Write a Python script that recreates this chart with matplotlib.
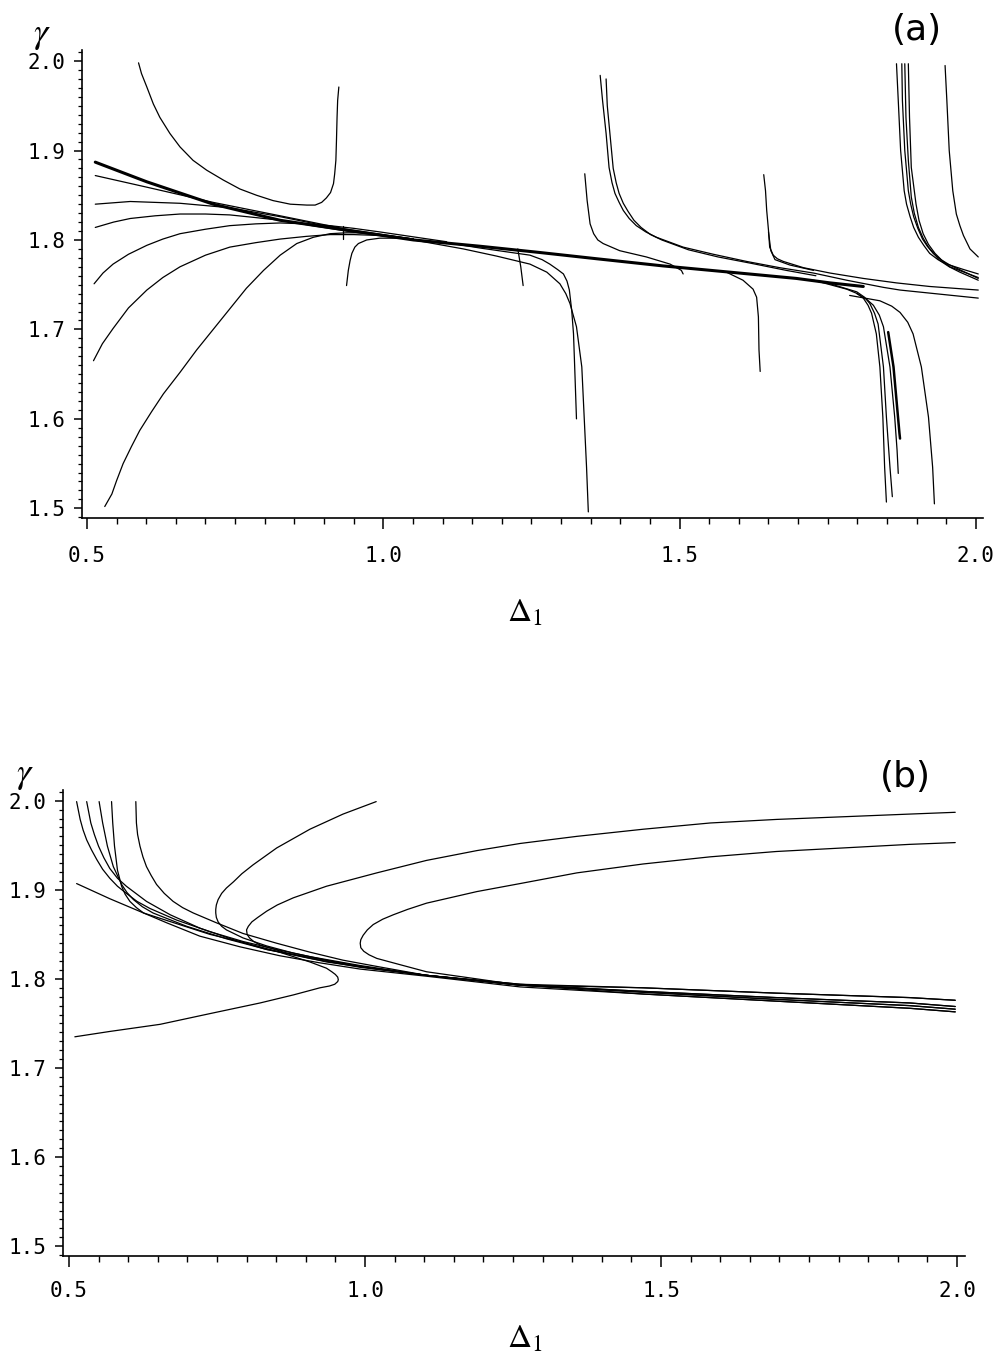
import matplotlib
matplotlib.use("Agg")
import matplotlib.pyplot as plt
from matplotlib.ticker import MultipleLocator, FormatStrFormatter

plt.rcParams["mathtext.fontset"] = "stix"

# ---------------- panel (a) curves (Delta_1, gamma) ----------------
a_upper_u = [(0.587, 1.998), (0.592, 1.986), (0.601, 1.971), (0.612, 1.952), (0.623, 1.937),
             (0.640, 1.919), (0.657, 1.904), (0.679, 1.889), (0.702, 1.878), (0.730, 1.867),
             (0.758, 1.857), (0.786, 1.850), (0.814, 1.844), (0.843, 1.840), (0.871, 1.839),
             (0.885, 1.839), (0.896, 1.842), (0.904, 1.847), (0.911, 1.853), (0.916, 1.863),
             (0.918, 1.874), (0.920, 1.889), (0.921, 1.911), (0.922, 1.937), (0.923, 1.956),
             (0.925, 1.971)]
a_main = [(0.514, 1.887), (0.601, 1.865), (0.713, 1.840), (0.826, 1.822), (0.938, 1.811),
          (1.051, 1.800), (1.163, 1.793), (1.264, 1.786), (1.360, 1.779), (1.472, 1.771),
          (1.585, 1.764), (1.697, 1.757), (1.754, 1.752), (1.810, 1.748)]
a_left_1 = [(0.514, 1.872), (0.601, 1.859), (0.713, 1.842), (0.826, 1.827), (0.938, 1.812), (1.051, 1.801)]
a_left_2 = [(0.514, 1.840), (0.573, 1.843), (0.657, 1.841), (0.741, 1.836), (0.826, 1.826),
            (0.938, 1.811), (1.051, 1.801)]
a_left_3 = [(0.514, 1.814), (0.545, 1.820), (0.573, 1.824), (0.615, 1.827), (0.657, 1.829),
            (0.700, 1.829), (0.741, 1.828), (0.785, 1.825), (0.826, 1.822), (0.880, 1.816),
            (0.938, 1.810), (1.051, 1.800)]
a_left_4 = [(0.512, 1.751), (0.527, 1.763), (0.544, 1.773), (0.570, 1.784), (0.601, 1.794),
            (0.628, 1.801), (0.657, 1.807), (0.700, 1.812), (0.741, 1.816), (0.785, 1.818),
            (0.826, 1.819), (0.870, 1.818), (0.910, 1.816), (0.950, 1.813), (0.994, 1.809),
            (1.107, 1.798)]
a_left_5 = [(0.511, 1.665), (0.526, 1.684), (0.544, 1.701), (0.570, 1.724), (0.601, 1.744),
            (0.628, 1.758), (0.657, 1.770), (0.700, 1.783), (0.741, 1.792), (0.785, 1.797),
            (0.826, 1.801), (0.870, 1.804), (0.910, 1.806), (0.950, 1.806), (0.994, 1.805),
            (1.107, 1.796)]
a_left_6 = [(0.530, 1.502), (0.536, 1.509), (0.542, 1.516), (0.550, 1.531), (0.561, 1.550),
            (0.575, 1.569), (0.589, 1.587), (0.609, 1.608), (0.629, 1.628), (0.657, 1.652),
            (0.685, 1.677), (0.713, 1.700), (0.741, 1.723), (0.769, 1.746), (0.798, 1.766),
            (0.826, 1.783), (0.854, 1.796), (0.882, 1.803), (0.910, 1.807), (0.938, 1.808),
            (0.966, 1.808), (1.051, 1.801)]
a_check = [(0.938, 1.749), (0.941, 1.766), (0.944, 1.777), (0.947, 1.785), (0.952, 1.792),
           (0.958, 1.796), (0.972, 1.800), (0.994, 1.802), (1.022, 1.802)]
a_tick_093 = [(0.932, 1.816), (0.932, 1.801)]
a_tick_124 = [(1.227, 1.790), (1.232, 1.770), (1.236, 1.749)]
a_drop_133 = [(1.107, 1.797), (1.163, 1.791), (1.2475, 1.783), (1.268, 1.778), (1.281, 1.773),
              (1.294, 1.767), (1.304, 1.762), (1.310, 1.754), (1.314, 1.744), (1.318, 1.721),
              (1.321, 1.695), (1.323, 1.658), (1.326, 1.600)]
a_drop_135 = [(1.051, 1.800), (1.135, 1.790), (1.191, 1.782), (1.2475, 1.773), (1.276, 1.764),
              (1.298, 1.751), (1.308, 1.740), (1.315, 1.729), (1.326, 1.703), (1.335, 1.658),
              (1.339, 1.602), (1.343, 1.546), (1.346, 1.496)]
a_hyp_137 = [(1.366, 1.984), (1.370, 1.956), (1.376, 1.919), (1.381, 1.881), (1.386, 1.864),
             (1.391, 1.852), (1.398, 1.842), (1.405, 1.833), (1.415, 1.824), (1.427, 1.816),
             (1.443, 1.809), (1.461, 1.803), (1.506, 1.792), (1.557, 1.784),
             (1.613, 1.776), (1.669, 1.769), (1.726, 1.763), (1.782, 1.755), (1.844, 1.747),
             (1.872, 1.744), (2.004, 1.735)]
a_hyp_138 = [(1.376, 1.980), (1.378, 1.950), (1.383, 1.915), (1.388, 1.880), (1.393, 1.864),
             (1.398, 1.852), (1.405, 1.841), (1.413, 1.832), (1.423, 1.822), (1.435, 1.814),
             (1.451, 1.806), (1.470, 1.800), (1.515, 1.789), (1.565, 1.781),
             (1.620, 1.774), (1.680, 1.766), (1.730, 1.760)]
a_hook_134 = [(1.340, 1.874), (1.344, 1.844), (1.349, 1.818), (1.355, 1.807), (1.362, 1.800),
              (1.371, 1.796), (1.399, 1.788), (1.444, 1.781), (1.484, 1.773), (1.503, 1.766),
              (1.506, 1.762)]
a_spike_164 = [(1.642, 1.873), (1.645, 1.855), (1.647, 1.833), (1.650, 1.811), (1.652, 1.792),
               (1.658, 1.783), (1.665, 1.779), (1.675, 1.776), (1.709, 1.769), (1.754, 1.763),
               (1.810, 1.757), (1.866, 1.752), (1.922, 1.748), (2.004, 1.744)]
a_spike_164b = [(1.650, 1.809), (1.654, 1.788), (1.661, 1.778), (1.686, 1.772), (1.726, 1.766)]
a_drop_163 = [(1.579, 1.764), (1.607, 1.755), (1.624, 1.745), (1.630, 1.736), (1.633, 1.714),
              (1.634, 1.677), (1.636, 1.653)]
a_drop_185a = [(1.726, 1.755), (1.782, 1.745), (1.800, 1.740), (1.810, 1.735), (1.818, 1.727),
               (1.824, 1.718), (1.832, 1.695), (1.838, 1.658), (1.843, 1.602), (1.846, 1.546),
               (1.849, 1.507)]
a_drop_185b = [(1.754, 1.751), (1.799, 1.742), (1.812, 1.736), (1.821, 1.729), (1.829, 1.718),
               (1.835, 1.706), (1.844, 1.658), (1.849, 1.602), (1.855, 1.546), (1.859, 1.513)]
a_drop_187 = [(1.799, 1.740), (1.815, 1.734), (1.827, 1.727), (1.837, 1.716), (1.844, 1.703),
              (1.855, 1.658), (1.863, 1.602), (1.867, 1.565), (1.869, 1.539)]
a_drop_187_thick = [(1.852, 1.697), (1.861, 1.658), (1.866, 1.621), (1.871, 1.584), (1.872, 1.578)]
a_drop_193 = [(1.787, 1.738), (1.838, 1.732), (1.858, 1.726), (1.872, 1.719), (1.885, 1.708),
              (1.894, 1.695), (1.908, 1.658), (1.920, 1.602), (1.927, 1.546), (1.930, 1.505)]
a_top_1 = [(1.866, 1.997), (1.869, 1.956), (1.873, 1.900), (1.879, 1.855), (1.883, 1.840),
           (1.889, 1.826), (1.895, 1.814), (1.903, 1.803), (1.912, 1.794), (1.922, 1.785),
           (1.936, 1.778), (1.951, 1.773), (1.979, 1.767), (2.004, 1.762)]
a_top_2 = [(1.875, 1.997), (1.876, 1.956), (1.880, 1.900), (1.886, 1.855), (1.890, 1.840),
           (1.895, 1.826), (1.902, 1.813), (1.910, 1.801), (1.918, 1.793), (1.928, 1.785),
           (1.941, 1.778), (1.956, 1.772), (2.004, 1.757)]
a_top_3 = [(1.880, 1.997), (1.882, 1.937), (1.886, 1.889), (1.891, 1.848), (1.896, 1.830),
           (1.903, 1.814), (1.911, 1.802), (1.920, 1.792), (1.939, 1.777), (1.955, 1.770),
           (1.973, 1.764), (2.004, 1.755)]
a_top_4 = [(1.886, 1.997), (1.888, 1.937), (1.891, 1.881), (1.899, 1.840), (1.904, 1.822),
           (1.911, 1.807), (1.920, 1.795), (1.931, 1.785), (1.943, 1.777), (1.956, 1.770),
           (2.004, 1.758)]
a_top_5 = [(1.948, 1.995), (1.951, 1.956), (1.955, 1.900), (1.961, 1.855), (1.967, 1.829),
           (1.973, 1.816), (1.979, 1.805), (1.990, 1.790), (2.004, 1.781)]

# ---------------- panel (b) curves ----------------
b_fold = [(0.510, 1.735), (0.569, 1.741), (0.654, 1.749), (0.738, 1.761), (0.823, 1.773),
          (0.879, 1.782), (0.924, 1.790), (0.940, 1.792), (0.949, 1.794), (0.954, 1.797),
          (0.955, 1.799), (0.954, 1.802), (0.950, 1.805), (0.944, 1.808), (0.935, 1.812),
          (0.907, 1.819), (0.851, 1.831), (0.794, 1.841), (0.738, 1.850), (0.682, 1.862),
          (0.626, 1.874), (0.569, 1.890), (0.513, 1.907)]
b_top_1 = [(0.513, 1.999), (0.519, 1.979), (0.524, 1.967), (0.530, 1.956), (0.538, 1.945),
           (0.547, 1.934), (0.557, 1.923), (0.569, 1.913), (0.582, 1.904), (0.597, 1.896),
           (0.615, 1.887), (0.637, 1.879), (0.682, 1.866), (0.738, 1.853), (0.794, 1.842),
           (0.851, 1.833), (0.907, 1.825), (0.992, 1.815), (1.104, 1.804), (1.262, 1.794),
           (1.470, 1.790), (1.695, 1.784), (1.920, 1.779), (1.997, 1.776)]
b_top_2 = [(0.530, 1.999), (0.537, 1.975), (0.543, 1.962), (0.550, 1.949), (0.559, 1.936),
           (0.569, 1.924), (0.582, 1.913), (0.597, 1.904), (0.631, 1.887), (0.671, 1.872),
           (0.721, 1.857), (0.778, 1.844), (0.834, 1.833), (0.907, 1.824), (0.992, 1.814),
           (1.104, 1.804), (1.262, 1.793),
           (1.470, 1.786), (1.695, 1.779), (1.920, 1.773), (1.997, 1.769)]
b_top_3 = [(0.551, 1.999), (0.557, 1.975), (0.565, 1.949), (0.575, 1.926), (0.589, 1.906),
           (0.598, 1.897), (0.609, 1.889), (0.624, 1.881), (0.642, 1.874), (0.699, 1.859),
           (0.766, 1.845), (0.834, 1.833), (0.907, 1.823), (0.992, 1.813), (1.104, 1.804),
           (1.262, 1.793),
           (1.470, 1.785), (1.695, 1.777), (1.920, 1.770), (1.997, 1.766)]
b_top_4 = [(0.572, 1.999), (0.574, 1.975), (0.577, 1.949), (0.582, 1.922), (0.589, 1.904),
           (0.595, 1.895), (0.603, 1.887), (0.614, 1.880), (0.626, 1.874), (0.665, 1.863),
           (0.721, 1.848), (0.789, 1.836), (0.856, 1.826), (0.924, 1.818), (0.992, 1.811),
           (1.104, 1.803), (1.262, 1.791),
           (1.470, 1.783), (1.695, 1.775), (1.920, 1.767), (1.997, 1.763)]
b_top_5 = [(0.613, 1.999), (0.614, 1.975), (0.616, 1.962), (0.620, 1.949), (0.625, 1.937),
           (0.631, 1.926), (0.639, 1.916), (0.648, 1.906), (0.661, 1.896), (0.676, 1.887),
           (0.692, 1.880), (0.710, 1.874), (0.749, 1.863), (0.794, 1.851), (0.851, 1.840),
           (0.907, 1.830), (0.963, 1.821), (1.020, 1.814), (1.104, 1.804), (1.262, 1.793),
           (1.470, 1.786), (1.695, 1.779), (1.920, 1.773), (1.997, 1.769)]
b_c_1 = [(1.019, 1.999), (0.963, 1.985), (0.907, 1.968), (0.851, 1.947), (0.811, 1.928),
         (0.792, 1.918), (0.778, 1.909), (0.766, 1.902), (0.758, 1.896), (0.752, 1.889),
         (0.749, 1.883), (0.748, 1.878), (0.748, 1.874), (0.749, 1.869), (0.752, 1.864),
         (0.758, 1.859), (0.766, 1.855), (0.794, 1.846), (0.834, 1.837), (0.879, 1.829),
         (0.935, 1.821), (0.992, 1.814), (1.104, 1.804), (1.262, 1.794),
         (1.470, 1.785), (1.695, 1.777), (1.920, 1.770), (1.997, 1.766)]
b_c_2 = [(1.997, 1.987), (1.920, 1.985), (1.808, 1.982), (1.695, 1.979), (1.583, 1.975),
         (1.470, 1.968), (1.358, 1.960), (1.262, 1.952), (1.189, 1.944), (1.104, 1.933),
         (1.020, 1.919), (0.935, 1.904), (0.879, 1.891), (0.852, 1.883), (0.834, 1.876),
         (0.819, 1.869), (0.809, 1.864), (0.803, 1.859), (0.800, 1.855), (0.801, 1.850),
         (0.805, 1.846), (0.812, 1.842), (0.823, 1.838), (0.868, 1.829), (0.935, 1.819),
         (1.020, 1.811), (1.104, 1.804), (1.262, 1.793),
         (1.470, 1.790), (1.695, 1.784), (1.920, 1.779), (1.997, 1.776)]
b_c_3 = [(1.997, 1.953), (1.920, 1.951), (1.808, 1.947), (1.695, 1.943), (1.583, 1.937),
         (1.470, 1.929), (1.358, 1.919), (1.262, 1.907), (1.189, 1.898), (1.104, 1.885),
         (1.072, 1.878), (1.048, 1.872), (1.030, 1.867), (1.014, 1.861), (1.004, 1.855),
         (0.997, 1.849), (0.993, 1.844), (0.992, 1.840), (0.993, 1.835), (0.998, 1.831),
         (1.007, 1.827), (1.020, 1.823), (1.059, 1.816), (1.104, 1.808), (1.189, 1.800),
         (1.262, 1.793),
         (1.470, 1.783), (1.695, 1.775), (1.920, 1.767), (1.997, 1.763)]

x_ticks = [0.5, 1.0, 1.5, 2.0]
y_ticks = [1.5, 1.6, 1.7, 1.8, 1.9, 2.0]

panel_a_thin = [a_upper_u, a_left_1, a_left_2, a_left_3, a_left_4, a_left_5, a_left_6,
                a_check, a_tick_093, a_tick_124, a_drop_133, a_drop_135, a_hyp_137, a_hyp_138,
                a_hook_134, a_spike_164, a_spike_164b, a_drop_163, a_drop_185a, a_drop_185b,
                a_drop_187, a_drop_193, a_top_1, a_top_2, a_top_3, a_top_4, a_top_5]
panel_b_thin = [b_fold, b_top_1, b_top_2, b_top_3, b_top_4, b_top_5, b_c_1, b_c_2, b_c_3]


def draw(ax, pts, lw=0.9):
    xs = [p[0] for p in pts]
    ys = [p[1] for p in pts]
    ax.plot(xs, ys, color="black", lw=lw, solid_capstyle="round", solid_joinstyle="round")


def style_axes(ax, xpad):
    ax.set_xlim(0.4916, 2.012)
    ax.set_ylim(1.489, 2.012)
    ax.spines["top"].set_visible(False)
    ax.spines["right"].set_visible(False)
    for s in ("left", "bottom"):
        ax.spines[s].set_linewidth(1.2)
    ax.xaxis.set_minor_locator(MultipleLocator(0.05))
    ax.yaxis.set_minor_locator(MultipleLocator(0.01))
    ax.set_xticks(x_ticks)
    ax.set_yticks(y_ticks)
    ax.xaxis.set_major_formatter(FormatStrFormatter("%.1f"))
    ax.yaxis.set_major_formatter(FormatStrFormatter("%.1f"))
    ax.tick_params(axis="x", which="major", direction="out", length=8, width=1.1, pad=xpad)
    ax.tick_params(axis="x", which="minor", direction="out", length=4, width=1.0)
    ax.tick_params(axis="y", which="major", direction="out", length=6, width=1.1, pad=6)
    ax.tick_params(axis="y", which="minor", direction="out", length=3, width=0.9)
    for lab in ax.get_xticklabels() + ax.get_yticklabels():
        lab.set_fontfamily("DejaVu Sans Mono")
        lab.set_fontsize(15)


fig = plt.figure(figsize=(10, 13.6), dpi=100)

ax_a = fig.add_axes([0.082, 0.619, 0.901, 0.344])
for c in panel_a_thin:
    draw(ax_a, c)
draw(ax_a, a_main, lw=2.2)
draw(ax_a, a_drop_187_thick, lw=1.8)
style_axes(ax_a, xpad=12)

ax_b = fig.add_axes([0.063, 0.0765, 0.902, 0.3426])
for c in panel_b_thin:
    draw(ax_b, c)
style_axes(ax_b, xpad=10)
ax_b.set_xlim(0.490, 2.0135)

# labels
fig.text(0.042, 1 - 35 / 1360, r"$\gamma$", fontsize=26, ha="center", va="center")
fig.text(0.025, 1 - 775 / 1360, r"$\gamma$", fontsize=26, ha="center", va="center")
fig.text(0.525, 1 - 612 / 1360, r"$\Delta_1$", fontsize=24, ha="center", va="center")
fig.text(0.525, 1 - 1338 / 1360, r"$\Delta_1$", fontsize=24, ha="center", va="center")
fig.text(0.917, 1 - 30 / 1360, "(a)", fontsize=26, ha="center", va="center")
fig.text(0.905, 1 - 777 / 1360, "(b)", fontsize=26, ha="center", va="center")

fig.savefig("out.png", dpi=100, facecolor="white")
